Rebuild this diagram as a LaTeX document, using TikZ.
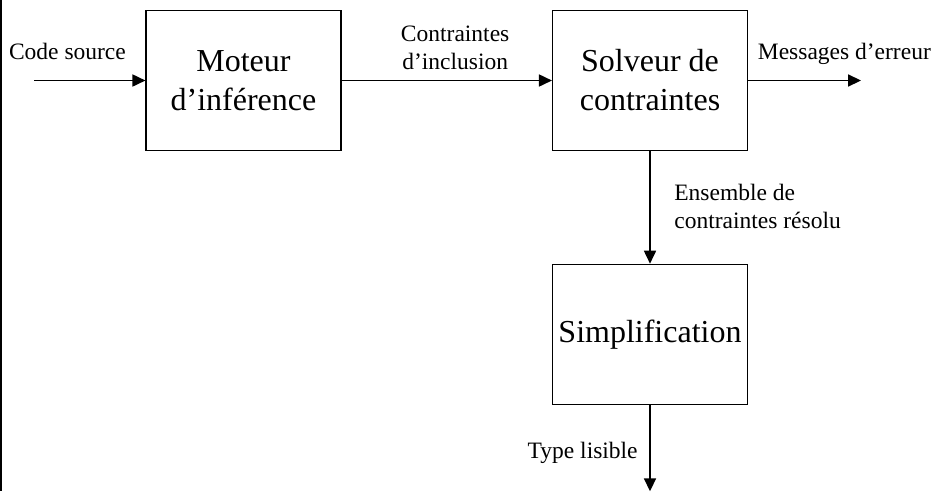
\documentclass[tikz,border=0pt]{standalone}
\usepackage{fontspec}
\setmainfont{Liberation Serif}
\usetikzlibrary{positioning}
\usetikzlibrary{arrows.meta}

\begin{document}
\begin{tikzpicture}[
    x=1pt, y=-1pt,
    bloc/.style={%
      draw,
      rectangle,
      line width=1.1pt,
      minimum width=195pt,
      minimum height=140.5pt,
      align=center,
      font=\fontsize{32}{39}\selectfont,
    },
    etiq/.style={%
      inner sep=0pt,
      align=left,
      font=\fontsize{23.5}{28}\selectfont,
    },
    fleche/.style={%
      line width=1.7pt,
      -{Triangle[length=13pt,width=12pt]},
    },
  ]

    \useasboundingbox (0,0) rectangle (936,491);
    \draw [line width=2pt] (1,0) -- (1,491);

    \node [bloc] (moteur) at (243.5,80.5) {Moteur\\d’inférence};
    \path (moteur) ++(406.5,0) node [bloc] (solveur) {Solveur de\\contraintes};
    \path (solveur) ++(0,254) node [bloc] (simplif) {Simplification};

    \coordinate (entree) at (34,80.5);
    \path (solveur.east) ++(113,0) coordinate (erreur);
    \path (simplif.south) ++(0,86) coordinate (sortie);


    \draw [fleche] (entree) -- (moteur) node [etiq, above=20pt, pos=0.3] {Code source};
    \draw [fleche] (moteur) -- (solveur) node [etiq, align=center, above=10pt, pos=0.54] {Contraintes\\d’inclusion};
    \draw [fleche] (solveur) -- (erreur) node [etiq, anchor=south west, pos=0, xshift=9pt, yshift=15pt] {Messages d’erreur};
    \draw [fleche] (solveur) -- (simplif) node [etiq, right=23.5pt, midway, yshift=1.5pt] {Ensemble de\\contraintes résolu};
    \draw [fleche] (simplif) -- (sortie) node [etiq, left=11.5pt, midway, yshift=-4.5pt] {Type lisible};

\end{tikzpicture}
\end{document}
